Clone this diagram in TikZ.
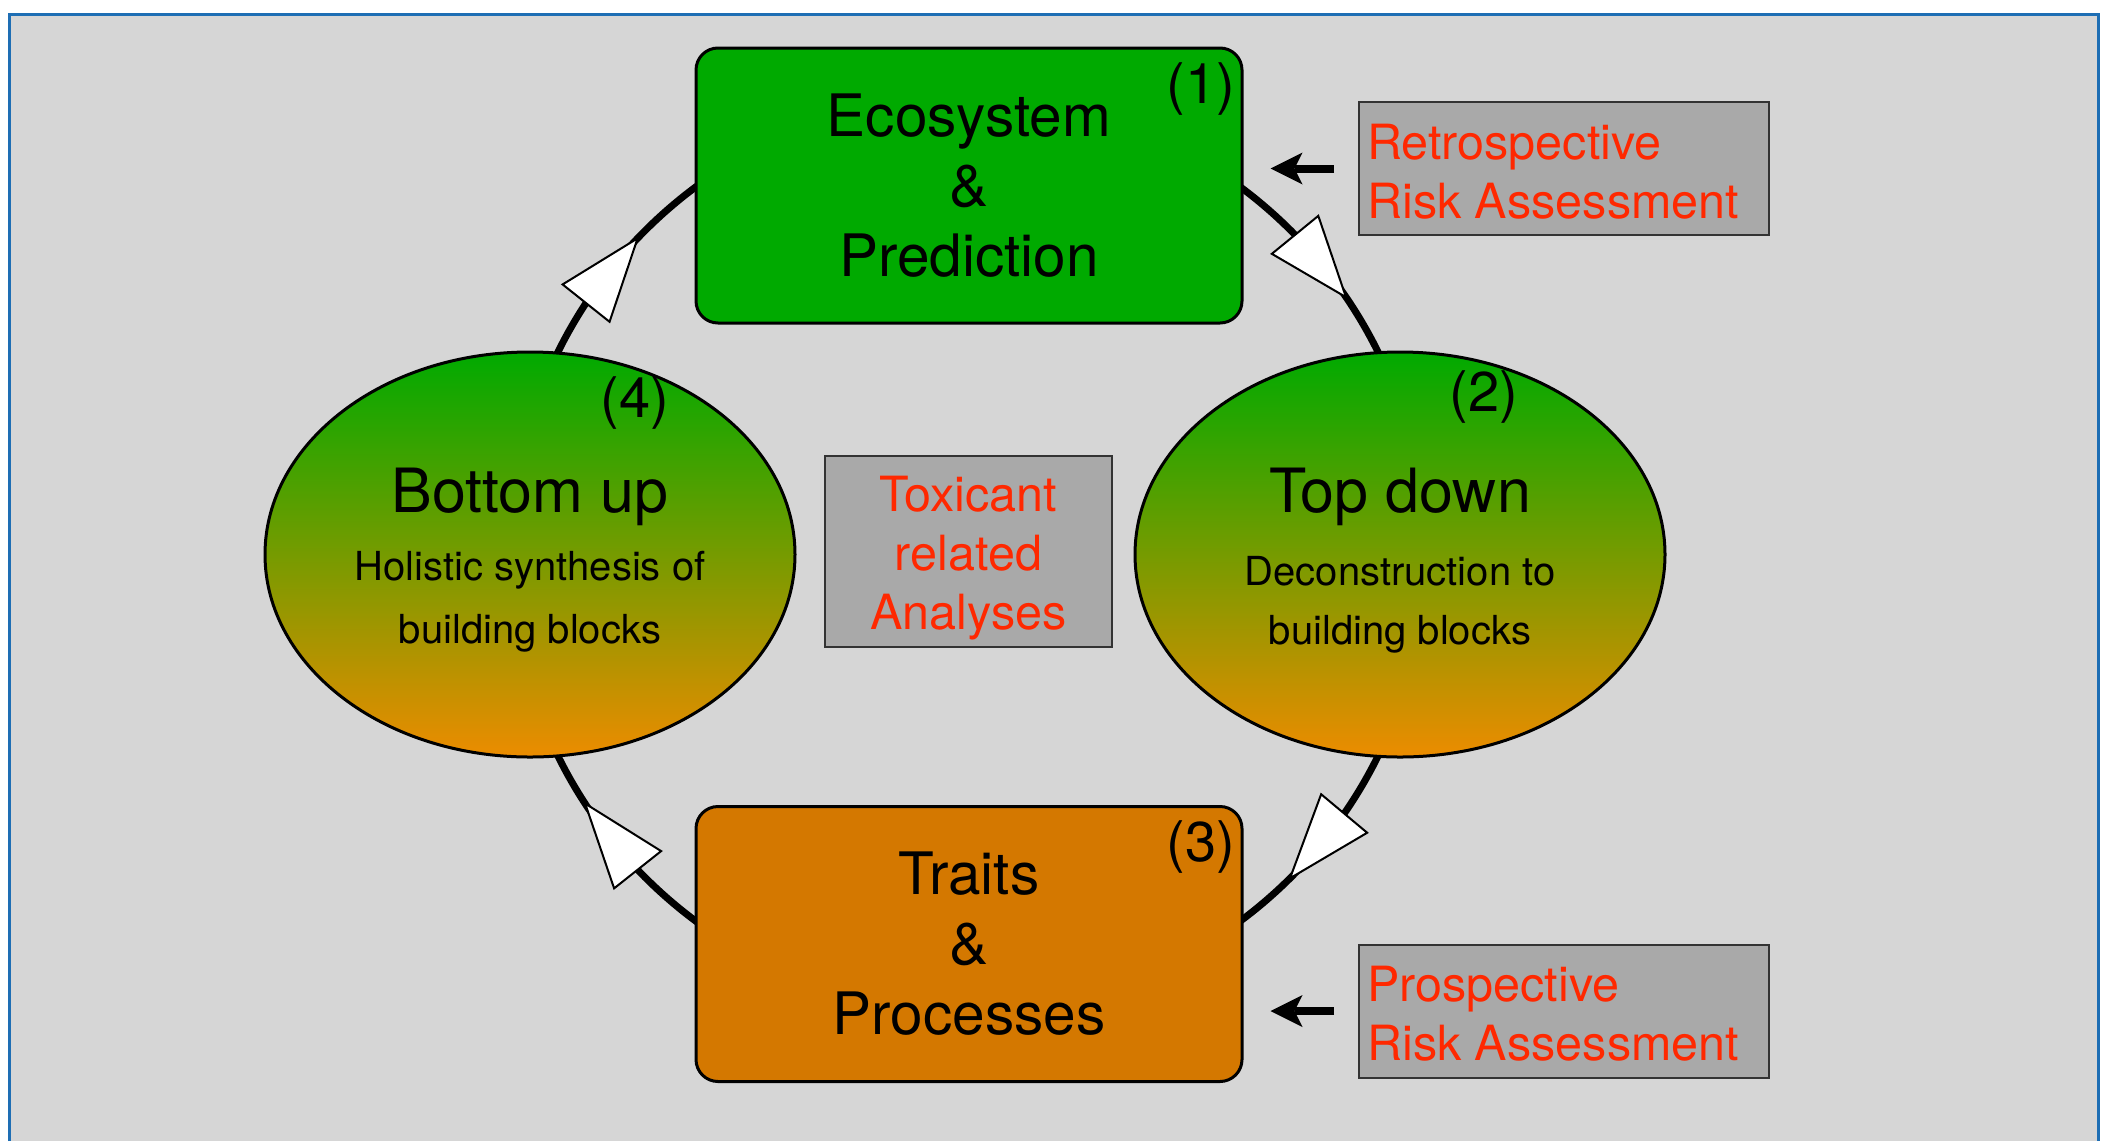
\documentclass[tikz,border=0pt]{standalone}
\usepackage{fontspec}
\setmainfont{TeX Gyre Heros}
\usetikzlibrary{shapes.geometric,arrows.meta,calc}
\definecolor{bggray}{RGB}{214,214,214}
\definecolor{frameblue}{RGB}{30,110,180}
\definecolor{boxgreen}{RGB}{0,170,0}
\definecolor{boxorange}{RGB}{212,120,0}
\definecolor{ellorange}{RGB}{236,140,0}
\definecolor{labgray}{RGB}{169,169,169}
\definecolor{labred}{RGB}{255,40,0}
\newcommand\cyclehead[3]{% name, base angle, tip angle (math angles)
  \coordinate (#1b) at ($(cyc)+(-#2:457)$);
  \coordinate (#1t) at ($(cyc)+(-#3:457)$);
  \draw[headstyle] (#1t) -- ($(#1b)!30pt!90:(#1t)$) -- ($(#1b)!30pt!-90:(#1t)$) -- cycle;
}
\begin{document}
\begin{tikzpicture}[x=1pt,y=-1pt,
  stagebox/.style={draw=black, line width=3pt, rounded corners=22pt, minimum width=546pt, minimum height=275pt, align=center, inner sep=0pt, font=\fontsize{58.5}{70}\selectfont},
  approach/.style={ellipse, draw=black, line width=3pt, minimum width=530pt, minimum height=405pt, top color=boxgreen, bottom color=ellorange, inner sep=0pt},
  numlabel/.style={font=\fontsize{56}{60}\selectfont, inner sep=0pt},
  titletext/.style={font=\fontsize{61}{70}\selectfont, inner sep=0pt},
  subtext/.style={font=\fontsize{40}{48}\selectfont, inner sep=0pt},
  riskbox/.style={draw=black!80, line width=2pt, fill=labgray, text=labred, font=\fontsize{48.5}{58.5}\selectfont},
  redtext/.style={text=labred, font=\fontsize{48.5}{59}\selectfont, inner sep=0pt},
  cycleline/.style={line width=7pt},
  headstyle/.style={fill=white, draw=black, line width=2pt, line join=miter},
  pointer/.style={line width=8pt, -{Stealth[length=32pt,width=32pt,inset=8pt,line width=0pt]}}
]
\useasboundingbox (0,0) rectangle (2108,1141);
\fill[white] (0,0) rectangle (2108,1141);
\fill[bggray] (9,14) rectangle (2098,1141);
\draw[frameblue, line width=3pt] (9,1141) -- (9,14) -- (2098,14) -- (2098,1141);

\coordinate (cyc) at (968,554);
\draw[cycleline] (cyc) circle[radius=457];
\cyclehead{ha}{146.7}{136.3}
\cyclehead{hb}{44.3}{34.2}
\cyclehead{hc}{-34.6}{-45.2}
\cyclehead{hd}{223.7}{213.1}

\node[stagebox, fill=boxgreen] (eco) at (969,185.5) {Ecosystem\\\&\\Prediction};
\node[stagebox, fill=boxorange] (traits) at (969,944) {Traits\\\&\\Processes};
\node[approach] (bu) at (530,554.5) {};
\node[approach] (td) at (1400,554.5) {};

\node[titletext] (butitle) at (530,497) {Bottom up};
\node[subtext] (busub1) at (530,570) {Holistic synthesis of};
\node[subtext] (busub2) at (530,633) {building blocks};
\node[titletext] (tdtitle) at (1400,497) {Top down};
\node[subtext] (tdsub1) at (1400,571) {Deconstruction to};
\node[subtext] (tdsub2) at (1400,634) {building blocks};

\node[numlabel] (n1) at (1201,89) {(1)};
\node[numlabel] (n2) at (1484,397) {(2)};
\node[numlabel] (n3) at (1201,847) {(3)};
\node[numlabel] (n4) at (635,403) {(4)};

\node[riskbox, minimum width=287pt, minimum height=191pt, inner sep=0pt] (tox) at (968.5,551.5) {};
\node[redtext, align=center] (toxtext) at (968.5,558.5) {Toxicant\\related\\Analyses};
\node[riskbox, text width=390pt, align=left, inner xsep=10pt, inner ysep=0pt, minimum height=133pt] (retro) at (1564,168.5) {};
\node[redtext, align=left, anchor=west] (retrotext) at (1367,172) {Retrospective\\Risk Assessment};
\node[riskbox, text width=390pt, align=left, inner xsep=10pt, inner ysep=0pt, minimum height=133pt] (prosp) at (1564,1011) {};
\node[redtext, align=left, anchor=west] (prosptext) at (1367,1014) {Prospective\\Risk Assessment};

\draw[pointer] ([xshift=-24pt]retro.west) -- ([xshift=27pt]retro.west -| eco.east);
\draw[pointer] ([xshift=-24pt]prosp.west) -- ([xshift=27pt]prosp.west -| traits.east);
\end{tikzpicture}
\end{document}
